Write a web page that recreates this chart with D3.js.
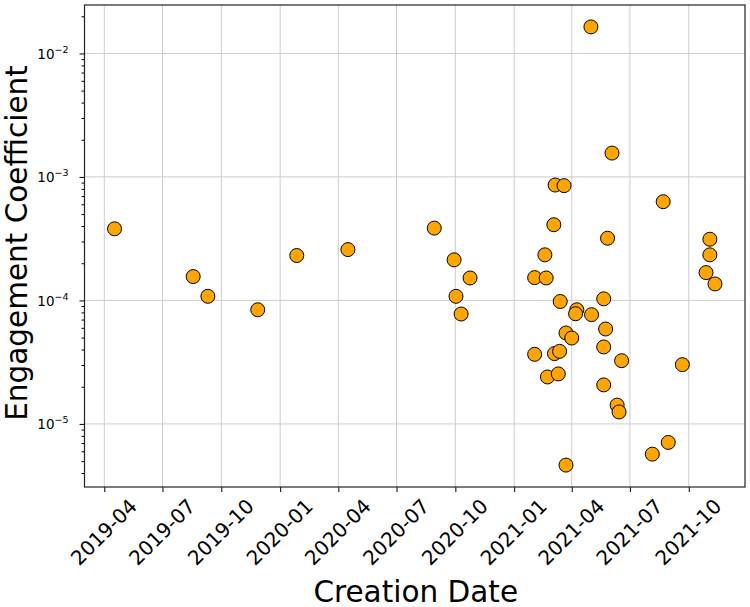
<!DOCTYPE html>
<html lang="en">
<head>
    <meta charset="UTF-8">
    <title>Engagement Coefficient</title>
    <script src="https://d3js.org/d3.v7.min.js"></script>
    <style>
        body {
            margin: 0;
            background: #fff;
            font-family: 'DejaVu Sans', sans-serif;
        }
    </style>
</head>
<body>
    <script>
        // creation dates and engagement values
        const dates = [
            "2019-04-17", "2019-08-18", "2019-09-10", "2019-11-27", "2020-01-27",
            "2020-04-16", "2020-08-29", "2020-09-29", "2020-10-24", "2020-10-02",
            "2020-10-10", "2021-05-01", "2021-06-03", "2021-03-06", "2021-03-20",
            "2021-08-22", "2021-03-04", "2021-05-27", "2021-11-03", "2021-11-03",
            "2021-10-28", "2021-11-11", "2021-02-18", "2021-02-02", "2021-02-20",
            "2021-03-14", "2021-05-21", "2021-04-09", "2021-04-07", "2021-05-02",
            "2021-05-24", "2021-03-23", "2021-04-01", "2021-05-21", "2021-02-02",
            "2021-03-05", "2021-03-13", "2021-06-18", "2021-09-21", "2021-02-22",
            "2021-03-11", "2021-05-21", "2021-06-11", "2021-06-14", "2021-08-30",
            "2021-08-05", "2021-03-23"
        ];
        const values = [
            3.8e-4, 1.56e-4, 1.08e-4, 8.4e-5, 2.31e-4,
            2.58e-4, 3.85e-4, 2.13e-4, 1.52e-4, 1.08e-4,
            7.76e-5, 1.64e-2, 1.56e-3, 8.6e-4, 8.5e-4,
            6.3e-4, 4.1e-4, 3.19e-4, 3.13e-4, 2.34e-4,
            1.68e-4, 1.36e-4, 2.34e-4, 1.53e-4, 1.52e-4,
            9.8e-5, 1.03e-4, 8.4e-5, 7.8e-5, 7.67e-5,
            5.87e-5, 5.45e-5, 4.96e-5, 4.2e-5, 3.66e-5,
            3.71e-5, 3.87e-5, 3.25e-5, 3.02e-5, 2.4e-5,
            2.54e-5, 2.07e-5, 1.42e-5, 1.25e-5, 7.08e-6,
            5.69e-6, 4.64e-6
        ];
        const xTickLabels = ["2019-04", "2019-07", "2019-10", "2020-01", "2020-04",
            "2020-07", "2020-10", "2021-01", "2021-04", "2021-07", "2021-10"];
        const yTickExponents = [-5, -4, -3, -2];

        const width = 750;
        const height = 607;
        const margin = { top: 5, right: 5, bottom: 120, left: 84.5 };
        const innerW = width - margin.left - margin.right;
        const innerH = height - margin.top - margin.bottom;

        const parse = d3.timeParse("%Y-%m-%d");
        const points = dates.map((d, i) => ({ date: parse(d), value: values[i] }));

        // 5% padding like matplotlib autoscale
        const [t0, t1] = d3.extent(points, d => +d.date);
        const tPad = (t1 - t0) * 0.05;
        const [lv0, lv1] = d3.extent(points, d => Math.log10(d.value));
        const lPad = (lv1 - lv0) * 0.05;

        const x = d3.scaleTime()
            .domain([new Date(t0 - tPad), new Date(t1 + tPad)])
            .range([0, innerW]);
        const y = d3.scaleLog()
            .domain([Math.pow(10, lv0 - lPad), Math.pow(10, lv1 + lPad)])
            .range([innerH, 0]);

        const svg = d3.select("body")
            .append("svg")
            .attr("width", width)
            .attr("height", height);

        const g = svg.append("g")
            .attr("transform", `translate(${margin.left},${margin.top})`);

        const xTicks = xTickLabels.map(s => d3.timeParse("%Y-%m")(s));
        const yTicks = yTickExponents.map(e => Math.pow(10, e));

        // grid
        g.selectAll(".vgrid")
            .data(xTicks)
            .enter()
            .append("line")
            .attr("x1", d => x(d)).attr("x2", d => x(d))
            .attr("y1", 0).attr("y2", innerH)
            .attr("stroke", "#cccccc")
            .attr("stroke-width", 1);
        g.selectAll(".hgrid")
            .data(yTicks)
            .enter()
            .append("line")
            .attr("x1", 0).attr("x2", innerW)
            .attr("y1", d => y(d)).attr("y2", d => y(d))
            .attr("stroke", "#cccccc")
            .attr("stroke-width", 1);

        // x axis
        const xAxis = g.append("g")
            .attr("transform", `translate(0,${innerH})`)
            .call(d3.axisBottom(x).tickValues(xTicks).tickSize(5).tickFormat(""));
        xAxis.select(".domain").remove();
        xAxis.selectAll(".tick line").attr("stroke", "#000");
        xAxis.selectAll(".tick")
            .append("text")
            .attr("transform", "translate(-1,45) rotate(-45)")
            .attr("text-anchor", "middle")
            .attr("dominant-baseline", "central")
            .attr("fill", "#000")
            .style("font-size", "20px")
            .style("font-family", "'DejaVu Sans', sans-serif")
            .text((d, i) => xTickLabels[i]);

        // y axis: minor ticks then major ticks
        const [yd0, yd1] = y.domain();
        const minor = [];
        for (let e = -7; e <= 0; e++) {
            for (let m = 2; m <= 9; m++) {
                const v = m * Math.pow(10, e);
                if (v >= yd0 && v <= yd1) minor.push(v);
            }
        }
        const yMinor = g.append("g")
            .call(d3.axisLeft(y).tickValues(minor).tickSize(3).tickFormat(""));
        yMinor.select(".domain").remove();
        yMinor.selectAll(".tick line").attr("stroke", "#000");

        const yAxis = g.append("g")
            .call(d3.axisLeft(y).tickValues(yTicks).tickSize(5).tickFormat(""));
        yAxis.select(".domain").remove();
        yAxis.selectAll(".tick line").attr("stroke", "#000");
        const yLab = yAxis.selectAll(".tick")
            .append("text")
            .attr("x", -16)
            .attr("y", 5)
            .attr("text-anchor", "end")
            .attr("fill", "#000")
            .style("font-size", "13.5px")
            .style("font-family", "'DejaVu Sans', sans-serif");
        yLab.append("tspan").text("10");
        yLab.append("tspan")
            .attr("dy", -6)
            .style("font-size", "9.5px")
            .text((d, i) => "\u2212" + Math.abs(yTickExponents[i]));

        // frame
        g.append("rect")
            .attr("width", innerW)
            .attr("height", innerH)
            .attr("fill", "none")
            .attr("stroke", "#222")
            .attr("stroke-width", 1.2);

        // points
        g.selectAll("circle")
            .data(points)
            .enter()
            .append("circle")
            .attr("cx", d => x(d.date))
            .attr("cy", d => y(d.value))
            .attr("r", 7)
            .attr("fill", "#ffa500")
            .attr("stroke", "#000")
            .attr("stroke-width", 1);

        // axis labels
        svg.append("text")
            .attr("x", margin.left + innerW / 2 + 1)
            .attr("y", 601.5)
            .attr("text-anchor", "middle")
            .style("font-size", "29.5px")
            .text("Creation Date");
        svg.append("text")
            .attr("transform", `translate(27,${margin.top + innerH / 2 - 3}) rotate(-90)`)
            .attr("text-anchor", "middle")
            .style("font-size", "29.5px")
            .text("Engagement Coefficient");
    </script>
</body>
</html>
